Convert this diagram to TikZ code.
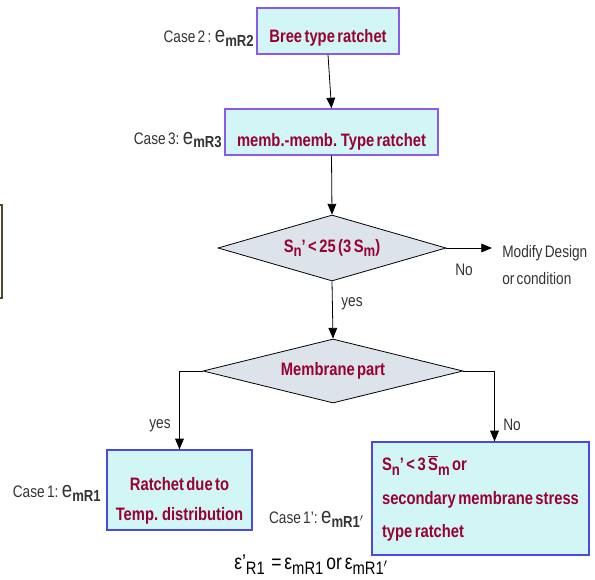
\documentclass[tikz,border=0pt]{standalone}
\usepackage{fontspec}
\setmainfont{Liberation Sans}[FakeStretch=0.82,WordSpace=0.6]
\usetikzlibrary{shapes.geometric,arrows.meta}
\definecolor{boxfill}{HTML}{D2F5F5}
\definecolor{boxedge}{HTML}{8A5AE8}
\definecolor{boxedgeb}{HTML}{4A4AE0}
\definecolor{dfill}{HTML}{DCE3EA}
\definecolor{ttext}{HTML}{990033}
\definecolor{lbl}{HTML}{333333}
\newcommand{\mysub}[1]{\raisebox{-0.45ex}{\fontsize{12}{13}\selectfont #1}}
\newcommand{\bige}{{\fontsize{17}{17}\selectfont e}}
\begin{document}
\begin{tikzpicture}[x=0.75pt,y=-0.75pt,
  procbox/.style={draw=boxedge,line width=0.9pt,fill=boxfill,inner sep=0pt,
    text=ttext,font=\fontsize{13.5}{15}\selectfont\bfseries},
  decis/.style={draw=black,line width=0.6pt,fill=dfill,shape=diamond,inner sep=0pt,
    text=ttext,font=\fontsize{13.5}{15}\selectfont\bfseries},
  lab/.style={text=lbl,font=\fontsize{12.5}{14}\selectfont,inner sep=0pt},
  arr/.style={draw=black,line width=0.6pt,-{Triangle[length=8pt,width=6.5pt]}},
  ln/.style={draw=black,line width=0.6pt}]
\useasboundingbox (0,0) rectangle (595,580);
% partial box at left edge
\draw[draw=black!60!olive,line width=0.8pt] (-10,205) -- (2,205) -- (2,298) -- (-10,298);
% boxes
\node[procbox,minimum width=142*0.75pt,minimum height=46*0.75pt] (b1) at (328,31) {\rule{0pt}{20pt}Bree type ratchet};
\node[procbox,minimum width=213*0.75pt,minimum height=46*0.75pt] (b2) at (331.5,132) {\rule{0pt}{25pt}memb.-memb. Type ratchet};
\node[decis,minimum width=228*0.75pt,minimum height=66*0.75pt,aspect=3.45] (d1) at (332,248)
  {S\mysub{n}' {\normalfont\bfseries<} 25 (3 S\mysub{m})};
\node[decis,minimum width=260*0.75pt,minimum height=64*0.75pt,aspect=4.06] (d2) at (333,371) {Membrane part};
\node[procbox,draw=boxedgeb,minimum width=145*0.75pt,minimum height=80*0.75pt,align=center] (b3) at (179.5,490)
  {\rule{0pt}{26pt}Ratchet due to\\[8pt]Temp. distribution};
\node[procbox,draw=boxedgeb,minimum width=217*0.75pt,minimum height=113*0.75pt,align=left] (b4) at (480.5,498.5)
  {S\mysub{n}' < 3 $\overline{\mbox{S}}$\mysub{m} or\\[10pt]secondary membrane stress\\[10pt]type ratchet};
% side labels
\node[lab,anchor=east] (c2) at (254,38) {Case 2 : \bige\mysub{\bfseries mR2}};
\node[lab,anchor=east] (c3) at (222,140) {Case 3: \bige\mysub{\bfseries mR3}};
\node[lab,anchor=east] (c1) at (101,493) {Case 1: \bige\mysub{\bfseries mR1}};
\node[lab,anchor=east] (c1p) at (364,519) {Case 1': \bige\mysub{\bfseries mR1$'$}};
\node[lab,text=black,font=\fontsize{16}{18}\selectfont] (eq) at (311,565)
  {ε'\mysub{\fontsize{13.5}{15}\selectfont R1} \,= ε\mysub{\fontsize{13.5}{15}\selectfont mR1} or ε\mysub{\fontsize{13.5}{15}\selectfont mR1$'$}};
% connectors
\draw[arr] (b1.south) -- (b2.north);
\draw[arr] (b2.south) -- (d1.north);
\coordinate (mod) at (492,248);
\draw[arr] (d1.east) -- (mod);
\node[lab,anchor=west,align=left] (modt) at (502,265) {Modify Design\\[6pt]or condition};
\node[lab] (no1) at (464,270) {No};
\draw[arr] (d1.south) -- (d2.north);
\node[lab] (yes1) at (352,304) {yes};
\draw[arr] (d2.west) -| (b3.north);
\node[lab] (yes2) at (160,426) {yes};
\draw[arr] (d2.east) -| ([xshift=14*0.75pt]b4.north);
\node[lab] (no2) at (512,425) {No};
\end{tikzpicture}
\end{document}
